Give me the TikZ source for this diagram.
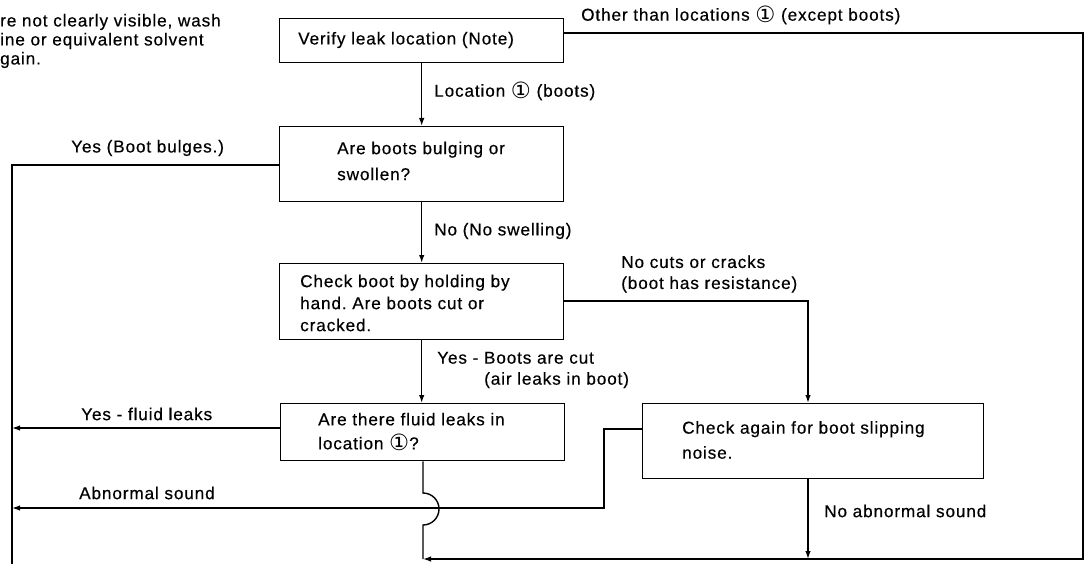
\documentclass[tikz,border=0pt]{standalone}
\usepackage{fontspec}
\usepackage{graphicx}
\setmainfont{Liberation Sans}[LetterSpace=5, FakeBold=0.4]
\newfontfamily\circfont{DejaVu Sans}
\newcommand{\cone}{\raisebox{-1.6pt}{\scalebox{1.3}{\circfont ①}}}
\usetikzlibrary{arrows.meta}
\frenchspacing
\begin{document}
\begin{tikzpicture}[x=1pt,y=-1pt,
  box/.style={draw, line width=1.4pt, anchor=north west, inner sep=0pt},
  txt/.style={anchor=west, inner sep=0pt, align=left, font=\fontsize{17.2}{22}\selectfont},
  wire/.style={line width=1.4pt},
  arr/.style={wire, -{Latex[length=8pt,width=5.5pt]}}]
\useasboundingbox (0,0) rectangle (1086,564);
\fill[white] (0,0) rectangle (1086,564);
% boxes
\node[box, minimum width=284, minimum height=44] (verify) at (279,18) {};
\node[box, minimum width=284, minimum height=75] (bulge) at (279,126) {};
\node[box, minimum width=284, minimum height=76] (cut) at (279,263) {};
\node[box, minimum width=284, minimum height=57] (fluid) at (280,403) {};
\node[box, minimum width=341, minimum height=75] (slip) at (642,403) {};
% box texts
\node[txt] (tverify) at (298,40) {Verify leak location (Note)};
\node[txt, font=\fontsize{17.2}{26}\selectfont] (tbulge) at (337,161) {Are boots bulging or\\swollen?};
\node[txt] (tcut) at (300,303) {Check boot by holding by\\hand. Are boots cut or\\cracked.};
\node[txt, font=\fontsize{17.2}{24}\selectfont] (tfluid) at (318,432) {Are there fluid leaks in\\location \cone?};
\node[txt, font=\fontsize{17.2}{25}\selectfont] (tslip) at (682,440) {Check again for boot slipping\\noise.};
% labels
\node[txt, font=\fontsize{17.2}{19}\selectfont] (note) at (0,41) {re not clearly visible, wash\\ine or equivalent solvent\\gain.};
\node[txt] (lother) at (581,15) {Other than locations \cone\ (except boots)};
\node[txt] (lloc) at (434,91) {Location \cone\ (boots)};
\node[txt] (lbulge) at (71,148) {Yes (Boot bulges.)};
\node[txt] (lnoswell) at (434,231) {No (No swelling)};
\node[txt, font=\fontsize{17.2}{21}\selectfont] (lnocut) at (621,274) {No cuts or cracks\\(boot has resistance)};
\node[txt, font=\fontsize{17.2}{21}\selectfont] (lcut) at (437,370) {Yes - Boots are cut\\\hspace*{47pt}(air leaks in boot)};
\node[txt] (lfluid) at (81,414) {Yes - fluid leaks};
\node[txt] (labn) at (79,493) {Abnormal sound};
\node[txt] (lnoabn) at (824,511) {No abnormal sound};
% coordinates
\coordinate (rtop) at (1083,33);
\coordinate (rbot) at (1083,559);
\coordinate (jx) at (423,559);
\coordinate (lt) at (12,165);
\coordinate (lb) at (12,564);
\coordinate (cr) at (808,301);
\coordinate (fl) at (12,428);
\coordinate (sk) at (604,429);
\coordinate (ab) at (12,508);
\coordinate (jt) at (423,493);
% connectors
\draw[arr] (verify.east |- rtop) -- (rtop) -- (rbot) -- (jx);
\draw[arr] (verify.south) -- (bulge.north);
\draw[wire] (bulge.west |- lt) -- (lt) -- (lb);
\draw[arr] (bulge.south) -- (cut.north);
\draw[arr] (cut.east |- cr) -- (cr) -- (cr |- slip.north);
\draw[arr] (cut.south) -- (cut.south |- fluid.north);
\draw[arr] (fluid.west |- fl) -- (fl);
\draw[arr] (slip.west |- sk) -- (sk) -- (sk |- ab) -- (ab);
\draw[wire] (fluid.south -| jt) -- (jt) arc[start angle=-90, end angle=90, radius=16] -- (jx);
\draw[arr] (slip.south -| cr) -- (cr |- rbot);
\end{tikzpicture}
\end{document}
